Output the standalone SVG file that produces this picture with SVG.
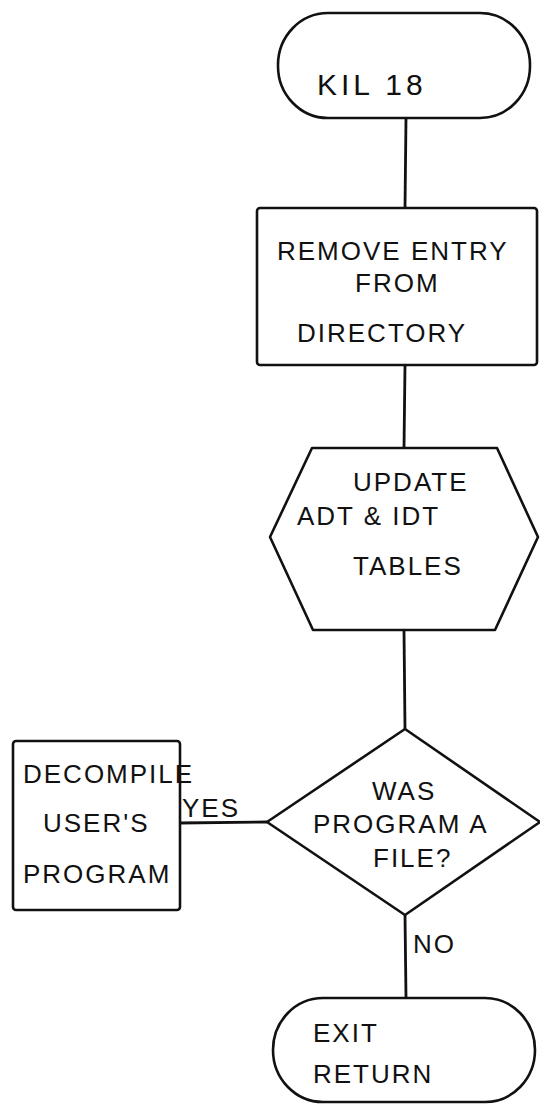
<svg xmlns="http://www.w3.org/2000/svg" width="540" height="1108" viewBox="0 0 540 1108">
<style>
.s{fill:none;stroke:#111;stroke-width:2.6;stroke-linejoin:round}
.c{fill:none;stroke:#111;stroke-width:2.8}
text{font-family:"Liberation Sans","DejaVu Sans",sans-serif;font-size:26px;fill:#111;letter-spacing:2px}
.big{font-size:30px;letter-spacing:4px}
</style>
<rect width="540" height="1108" fill="#fff"/>
<g id="connectors">
<line class="c" x1="406" y1="118" x2="405" y2="208"/>
<line class="c" x1="405" y1="365" x2="404" y2="448"/>
<line class="c" x1="404" y1="630" x2="405" y2="729"/>
<line class="c" x1="267" y1="822" x2="180" y2="823"/>
<line class="c" x1="405" y1="915" x2="406" y2="998"/>
<text x="182" y="817">YES</text>
<text x="413" y="953">NO</text>
</g>
<g id="start">
<rect class="s" x="278" y="13" width="252" height="105" rx="50" ry="52"/>
<text class="big" x="317" y="95">KIL 18</text>
</g>
<g id="remove">
<rect class="s" x="257" y="208" width="280" height="157" rx="3"/>
<text x="277" y="260">REMOVE ENTRY</text>
<text x="355" y="292">FROM</text>
<text x="297" y="342">DIRECTORY</text>
</g>
<g id="update">
<polygon class="s" points="312,448 497,448 538,537 495,630 313,630 270,537"/>
<text x="353" y="491">UPDATE</text>
<text x="297" y="525">ADT &amp; IDT</text>
<text x="353" y="575">TABLES</text>
</g>
<g id="decision">
<polygon class="s" points="405,729 540,822 405,915 267,822"/>
<text x="372" y="800">WAS</text>
<text x="313" y="833">PROGRAM A</text>
<text x="373" y="867">FILE?</text>
</g>
<g id="decompile">
<rect class="s" x="13" y="741" width="167" height="169" rx="3"/>
<text x="23" y="783">DECOMPILE</text>
<text x="43" y="832">USER'S</text>
<text x="23" y="883">PROGRAM</text>
</g>
<g id="exit">
<rect class="s" x="273" y="998" width="262" height="104" rx="50" ry="52"/>
<text x="313" y="1042">EXIT</text>
<text x="313" y="1083">RETURN</text>
</g>
</svg>
